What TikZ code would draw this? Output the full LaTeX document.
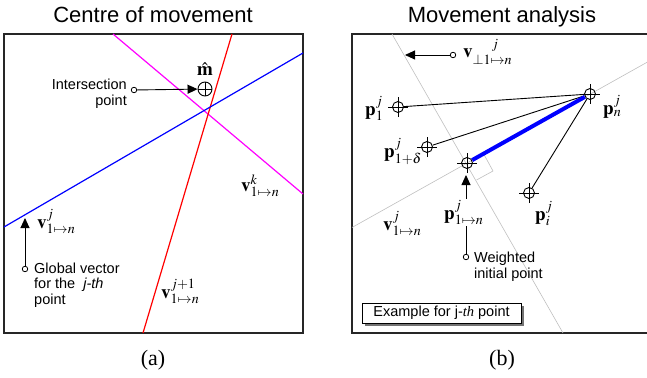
\documentclass[tikz,border=0pt]{standalone}
\usepackage{mathptmx}
\usepackage{fontspec}
\setmainfont{Liberation Serif}
\setsansfont{Liberation Sans}
\usetikzlibrary{arrows.meta,shadows,calc}
\definecolor{cmag}{RGB}{255,0,255}
\definecolor{cred}{RGB}{255,0,0}
\definecolor{cblue}{RGB}{0,0,255}
\begin{document}
\begin{tikzpicture}[x=1pt,y=-1pt,
  frame/.style={draw=black!85,line width=1.3pt},
  lbl/.style={font=\fontsize{19}{21}\selectfont, inner sep=0pt, anchor=base west},
  note/.style={font=\sffamily\fontsize{14.5}{15.5}\selectfont, inner sep=0pt},
  ttl/.style={font=\sffamily\fontsize{22}{24}\selectfont, anchor=base},
  captxt/.style={font=\rmfamily\fontsize{22}{24}\selectfont, anchor=base},
  tail/.style={circle,draw,fill=white,minimum size=5.5pt,inner sep=0pt,line width=0.8pt},
  arr/.style={-{Triangle[length=10pt,width=9pt]},line width=0.9pt},
  xh/.style={circle,draw,minimum size=11pt,inner sep=0pt,line width=0.9pt},
  oplus/.style={circle,draw,minimum size=14pt,inner sep=0pt,line width=0.9pt,
    path picture={\draw[line width=0.9pt] (path picture bounding box.north) -- (path picture bounding box.south)
      (path picture bounding box.west) -- (path picture bounding box.east);}},
  guide/.style={draw=black!25,line width=0.6pt},
  colline/.style={line width=1.2pt},
  thin/.style={line width=0.9pt},
  ex/.style={draw,fill=white,line width=0.9pt,minimum width=159pt,minimum height=20pt,inner sep=0pt,
    font=\sffamily\fontsize{14.5}{15.5}\selectfont,
    drop shadow={shadow xshift=2.5pt,shadow yshift=-2.5pt,fill=black!55,opacity=1}},
]
\useasboundingbox (0,0) rectangle (647,377);

% ---------- (a) Centre of movement ----------
\node[ttl] (t1) at (153,23) {Centre of movement};
\draw[frame] (4,34) rectangle (303,333);
\draw[colline,cmag] (113,34) -- (303,194);
\draw[colline,cred] (232,34) -- (143,333);
\draw[colline,cblue] (303,53) -- (4,227);

\node[oplus] (m) at (205,89) {};
\node[lbl,anchor=base] (mlab) at (205,76) {$\hat{\mathbf{m}}$};
\node[tail] (it) at (134,90) {};
\draw[arr] (it) -- (m);
\node[note,align=right,anchor=east] (itx) at (127,94) {Intersection\\point};

\node[lbl] (vj) at (37,228) {$\mathbf{v}^{j}_{1\mapsto n}$};
\node[tail] (gt) at (25,269) {};
\coordinate (gh) at (25,218);
\draw[arr] (gt) -- (gh);
\node[note,align=left,anchor=west] (gtx) at (34,285) {Global vector\\for the \ \textit{j-th}\\point};

\node[lbl] (vk) at (241,191) {$\mathbf{v}^{k}_{1\mapsto n}$};
\node[lbl] (vj1) at (161,298) {$\mathbf{v}^{j+1}_{1\mapsto n}$};
\node[captxt] (ca) at (153,365) {(a)};

% ---------- (b) Movement analysis ----------
\node[ttl] (t2) at (502,23) {Movement analysis};
\draw[frame] (660,34) -- (352,34) -- (352,333) -- (660,333);
\draw[guide] (392,34) -- (563,333);
\draw[guide] (352,227.5) -- (660,55);
\draw[guide] (476.5,180) -- (493,171) -- (484,154.5);

\node[xh] (p1) at (398,107) {};
\node[xh] (pd) at (427,147) {};
\node[xh] (pw) at (467,163) {};
\node[xh] (pi) at (529,193) {};
\node[xh] (pn) at (590,94) {};

\draw[thin] (p1) -- (pn);
\draw[thin] (pd) -- (pn);
\draw[thin] (pi) -- (pn);
\draw[cblue,line width=4pt] (pw) -- (pn);

\foreach \n in {p1,pd,pw,pi,pn}{
  \draw[thin] (\n.center) ++(-10pt,0pt) -- ++(20pt,0pt);
  \draw[thin] (\n.center) ++(0pt,-10pt) -- ++(0pt,20pt);
}

\node[tail] (wt) at (466,257) {};
\coordinate (wh) at (466,175);
\draw[arr] (wt) -- (wh);
\node[lbl,fill=white,inner sep=1pt] (pwl) at (443,219) {$\mathbf{p}^{j}_{1\mapsto n}$};
\node[note,align=left,anchor=west] (wtx) at (474,266.5) {Weighted\\initial point};

\node[lbl] (p1l) at (365,115) {$\mathbf{p}^{j}_{1}$};
\node[lbl] (pdl) at (384,157) {$\mathbf{p}^{j}_{1+\delta}$};
\node[lbl] (pil) at (535,220) {$\mathbf{p}^{j}_{i}$};
\node[lbl] (pnl) at (603,114) {$\mathbf{p}^{j}_{n}$};
\node[lbl] (vjr) at (383,230) {$\mathbf{v}^{j}_{1\mapsto n}$};

\node[tail] (vt) at (453,55) {};
\coordinate (vh) at (405,55);
\draw[arr] (vt) -- (vh);
\node[lbl] (vpl) at (463,58) {$\mathbf{v}^{\quad j}_{\perp 1\mapsto n}$};

\node[ex] (exb) at (441.5,313) {Example for j-{\rmfamily\itshape th} point};
\node[captxt] (cb) at (502,365) {(b)};
\end{tikzpicture}
\end{document}
